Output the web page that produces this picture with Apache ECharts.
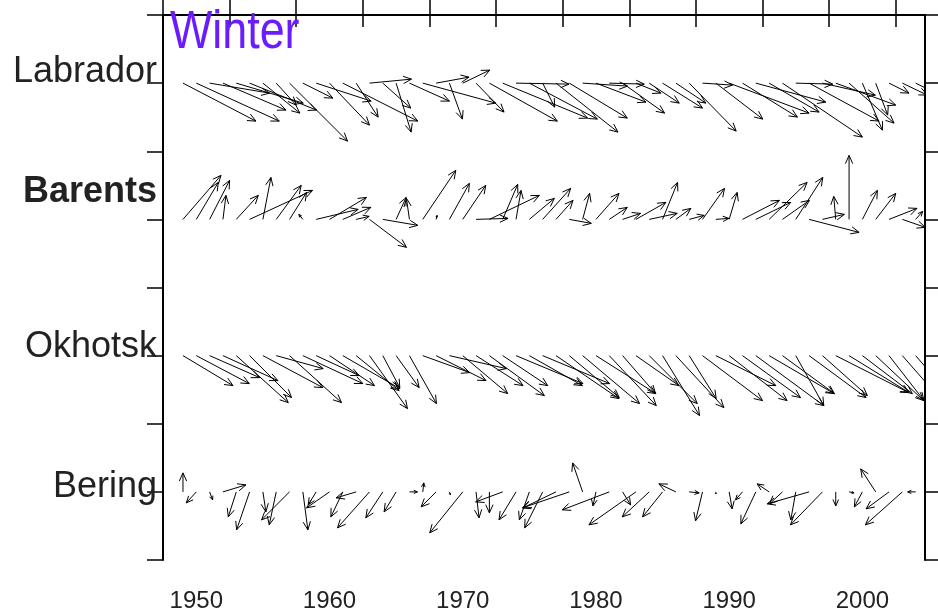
<!DOCTYPE html>
<html><head><meta charset="utf-8">
<script src="https://cdn.jsdelivr.net/npm/echarts@6/dist/echarts.min.js"></script>
<style>html,body{margin:0;padding:0;background:#fff}#c{width:938px;height:616px}</style>
</head><body><div id="c"></div>
<script>
// ---- data ----
const years = [1949,1950,1951,1952,1953,1954,1955,1956,1957,1958,1959,1960,1961,1962,1963,1964,1965,1966,1967,1968,1969,1970,1971,1972,1973,1974,1975,1976,1977,1978,1979,1980,1981,1982,1983,1984,1985,1986,1987,1988,1989,1990,1991,1992,1993,1994,1995,1996,1997,1998,1999,2000,2001,2002,2003,2004];
const regions = ['Labrador', 'Barents', 'Okhotsk', 'Bering'];
const regionRows = [1, 3, 5, 7];
const xTicks = [1947.5,1952.5,1957.5,1962.5,1967.5,1972.5,1977.5,1982.5,1987.5,1992.5,1997.5,2002.5];
const xLabels = [1950,1960,1970,1980,1990,2000];

// vector components (u = eastward, v = northward), arbitrary units
const labradorU = [73,83,60,63,67,67,37,20,58,30,55,40,75,22,42,28,15,40,73,33,13,27,28,68,85,53,68,12,62,58,45,50,35,42,25,30,40,30,47,30,47,80,55,70,50,80,37,70,53,60,45,20,12,20,25,20];
const labradorV = [-38,-38,-10,-27,-20,-27,-30,-22,-58,-15,-18,-42,-38,-34,4,-25,-49,-18,-20,6,-36,13,-29,-38,-35,-1,-36,-24,-49,-35,-3,-19,-1,-30,-10,-20,-25,-20,-48,-2,-36,-30,-34,-19,-29,-54,-1,-38,-12,-22,-40,-47,-32,-10,-12,-10];
const barentsU = [38,22,20,3,22,63,8,25,17,-4,42,37,28,13,37,35,10,-3,33,1,20,23,32,50,15,5,25,28,17,22,7,23,18,18,30,28,15,15,15,22,13,8,37,35,38,27,27,50,22,-2,0,15,20,28,23,7];
const barentsV = [44,37,39,24,24,29,42,34,27,5,10,22,12,3,-28,-6,22,21,49,4,36,34,1,24,35,29,21,31,19,-4,26,26,12,6,17,6,37,11,4,31,1,27,19,17,37,19,42,-13,5,23,64,29,26,11,-8,8];
const okhotskU = [50,53,50,55,52,42,60,47,52,60,43,45,57,43,38,17,23,27,47,50,57,45,47,55,45,67,53,67,63,50,57,60,47,33,43,48,37,48,27,60,60,58,58,68,65,52,28,57,45,73,60,50,48,35,35,30];
const okhotskV = [-30,-28,-22,-25,-47,-42,-32,-13,-47,-28,-20,-30,-33,-35,-53,-32,-32,-48,-17,-25,-13,-38,-30,-40,-30,-28,-30,-28,-43,-42,-48,-38,-50,-38,-30,-48,-60,-52,-43,-45,-30,-45,-42,-50,-38,-38,-50,-42,-40,-37,-37,-38,-45,-45,-40,-35];
const beringU = [0,-10,3,23,-8,-13,3,-7,-28,5,-8,-23,-12,-20,-32,-17,-12,8,1,-15,1,-33,3,0,-27,-17,-10,-18,-33,-47,-10,-3,-47,8,-47,-27,-20,-17,10,-7,0,3,-7,-15,-12,-13,-5,-42,-32,0,5,-8,-15,-23,-37,-8];
const beringV = [19,-11,-8,7,-25,-38,-20,-33,-28,-38,-13,-16,-25,-6,-36,-26,-20,0,9,-15,-3,-41,-26,-21,-10,-28,-28,-36,-16,-16,29,-14,-18,-13,-33,-25,-25,8,-1,-29,-2,-17,-8,-32,8,-12,-28,-12,-33,-14,-1,-15,23,-17,-33,0];

const seriesU = [labradorU, barentsU, okhotskU, beringU];
const seriesV = [labradorV, barentsV, okhotskV, beringV];

// quiver scale: vector units per one year of x-axis length
const UNITS_PER_YEAR = 13.33;

function renderArrow(params, api) {
  const x = api.value(0), row = api.value(1), u = api.value(2), v = api.value(3);
  const p0 = api.coord([x, row]);
  const k = api.size([1, 0])[0] / UNITS_PER_YEAR;
  const dx = u * k, dy = -v * k;
  const len = Math.hypot(dx, dy);
  if (len < 0.5) return null;
  const p1 = [p0[0] + dx, p0[1] + dy];
  const hl = Math.min(9, len * 0.5);
  const ang = Math.atan2(dy, dx);
  const a = 0.42;
  const h1 = [p1[0] - hl * Math.cos(ang - a), p1[1] - hl * Math.sin(ang - a)];
  const h2 = [p1[0] - hl * Math.cos(ang + a), p1[1] - hl * Math.sin(ang + a)];
  return {
    type: 'group',
    children: [
      { type: 'line', shape: { x1: p0[0], y1: p0[1], x2: p1[0], y2: p1[1] }, style: { stroke: '#000', lineWidth: 1 } },
      { type: 'polyline', shape: { points: [h1, p1, h2] }, style: { stroke: '#000', fill: null, lineWidth: 1 } }
    ]
  };
}

const series = regions.map((name, r) => ({
  type: 'custom',
  name: name,
  xAxisIndex: 0,
  yAxisIndex: 0,
  clip: true,
  renderItem: renderArrow,
  data: years.map((y, i) => [y, regionRows[r], seriesU[r][i], seriesV[r][i]]),
  silent: true
}));

// label placement values (slightly above each row)
const labelValues = [0.837, 2.599, 4.874, 6.929];

const chart = echarts.init(document.getElementById('c'), null, { renderer: 'canvas' });
const axisLine = { show: true, lineStyle: { color: '#000', width: 2 } };
chart.setOption({
  animation: false,
  backgroundColor: '#fff',
  graphic: [{
    type: 'text', x: 170, y: 6, scaleX: 0.83, z: 10,
    style: { text: 'Winter', fontFamily: 'Liberation Sans', fontSize: 54, fill: '#6b1cff', textVerticalAlign: 'top', textAlign: 'left' }
  }],
  grid: { left: 163, right: 13, top: 15, bottom: 56 },
  xAxis: [
    {
      type: 'value', position: 'bottom', min: 1947.5, max: 2004.7,
      axisLine: axisLine,
      axisTick: { show: true, customValues: xTicks, length: 12, lineStyle: { color: '#000', width: 1.5 } },
      axisLabel: { customValues: xLabels, fontFamily: 'Liberation Sans', fontSize: 24, color: '#222', margin: 29,
        formatter: function (v) { return String(Math.round(v)); } },
      splitLine: { show: false }
    },
    {
      type: 'value', position: 'top', min: 1947.5, max: 2004.7,
      axisLine: axisLine,
      axisTick: { show: true, customValues: xTicks, length: 15, lineStyle: { color: '#000', width: 1.5 } },
      axisLabel: { show: false },
      splitLine: { show: false }
    }
  ],
  yAxis: [
    {
      type: 'value', position: 'left', min: 0, max: 8, interval: 1, inverse: true,
      axisLine: axisLine,
      axisTick: { show: true, length: 16, lineStyle: { color: '#000', width: 1.5 } },
      axisLabel: {
        customValues: labelValues, margin: 6,
        fontFamily: 'Liberation Sans', fontSize: 36, color: '#222',
        formatter: function (val) {
          let best = 0;
          for (let i = 0; i < labelValues.length; i++) {
            if (Math.abs(labelValues[i] - val) < Math.abs(labelValues[best] - val)) best = i;
          }
          return best === 1 ? '{b|' + regions[best] + '}' : '{n|' + regions[best] + '}';
        },
        rich: {
          n: { fontFamily: 'Liberation Sans', fontSize: 36, color: '#222' },
          b: { fontFamily: 'Liberation Sans', fontSize: 36, fontWeight: 'bold', color: '#222' }
        }
      },
      splitLine: { show: false }
    },
    {
      type: 'value', position: 'right', min: 0, max: 8, interval: 1, inverse: true,
      axisLine: axisLine,
      axisTick: { show: true, length: 14, lineStyle: { color: '#000', width: 1.5 } },
      axisLabel: { show: false },
      splitLine: { show: false }
    }
  ],
  series: series
});
</script>
</body></html>
